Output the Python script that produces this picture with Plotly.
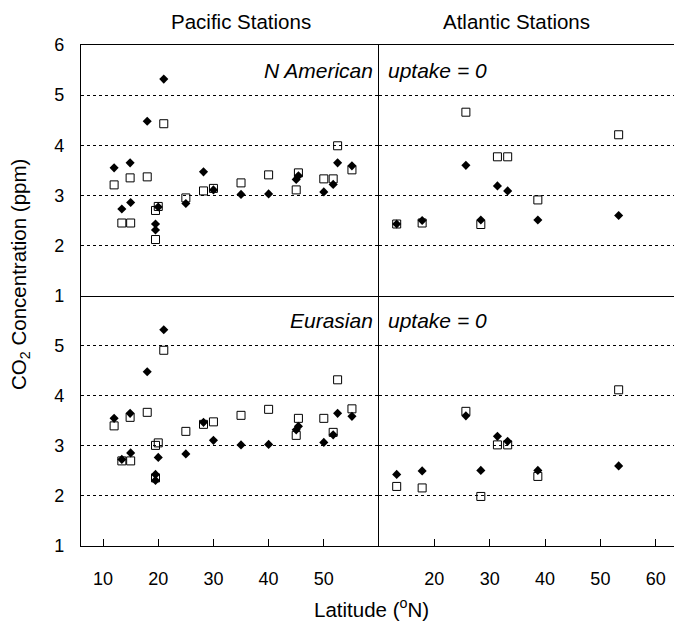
import plotly.graph_objects as go

# Pacific stations
pac_lat = [12.0, 13.4, 14.9, 15.0, 18.0, 19.5, 19.5, 20.0, 21.0, 25.0,
           28.2, 30.0, 35.0, 40.0, 45.0, 45.4, 50.0, 51.7, 52.5, 55.1]
pac_obs = [3.55, 2.73, 3.65, 2.86, 4.48, 2.43, 2.31, 2.77, 5.32, 2.84,
           3.47, 3.11, 3.02, 3.03, 3.32, 3.39, 3.07, 3.22, 3.65, 3.59]
pac_mod_na = [3.21, 2.45, 3.35, 2.45, 3.37, 2.70, 2.12, 2.78, 4.43, 2.95,
              3.09, 3.14, 3.25, 3.41, 3.11, 3.45, 3.33, 3.33, 3.99, 3.51]
pac_mod_eu = [3.40, 2.70, 3.57, 2.70, 3.67, 3.01, 2.36, 3.06, 4.91, 3.29,
              3.43, 3.48, 3.61, 3.73, 3.21, 3.55, 3.55, 3.27, 4.32, 3.74]

# Atlantic stations
atl_lat = [13.2, 17.8, 25.7, 28.4, 31.4, 33.25, 38.7, 53.3]
atl_obs = [2.43, 2.50, 3.60, 2.51, 3.19, 3.09, 2.51, 2.60]
atl_mod_na = [2.43, 2.45, 4.66, 2.42, 3.77, 3.77, 2.91, 4.21]
atl_mod_eu = [2.19, 2.16, 3.69, 1.99, 3.02, 3.02, 2.39, 4.12]

pac_ticks = [10, 20, 30, 40, 50]
atl_ticks = [20, 30, 40, 50, 60]
y_ticks_top = [1, 2, 3, 4, 5, 6]
y_ticks_bot = [1, 2, 3, 4, 5]

FONT = "Liberation Sans, Arial, Helvetica, sans-serif"

fig = go.Figure()

panels = [
    ("x", "y", pac_lat, pac_obs, pac_mod_na),
    ("x2", "y2", atl_lat, atl_obs, atl_mod_na),
    ("x3", "y3", pac_lat, pac_obs, pac_mod_eu),
    ("x4", "y4", atl_lat, atl_obs, atl_mod_eu),
]
for xa, ya, lat, obs, mod in panels:
    fig.add_trace(go.Scatter(x=lat, y=mod, xaxis=xa, yaxis=ya, mode="markers",
                             marker=dict(symbol="square-open", size=8, color="black",
                                         line=dict(width=1, color="black")),
                             showlegend=False, cliponaxis=False))
    fig.add_trace(go.Scatter(x=lat, y=obs, xaxis=xa, yaxis=ya, mode="markers",
                             marker=dict(symbol="diamond", size=7, color="black"),
                             showlegend=False, cliponaxis=False))

xsplit = 0.5025
ysplit = 0.4996

grid = dict(showgrid=True, gridcolor="black", gridwidth=1, griddash="3px,3px",
            zeroline=False)

def xax(domain, rng, anchor, bottom, tv):
    d = dict(domain=domain, range=rng, anchor=anchor, showgrid=False, zeroline=False,
             showline=True, linecolor="black", linewidth=1.3, tickvals=tv)
    if bottom:
        d.update(ticks="inside", ticklen=7, tickcolor="black", tickwidth=1,
                 showticklabels=True, tickfont=dict(size=18, color="black", family=FONT),
                 ticklabelstandoff=16)
    else:
        d.update(mirror=True, ticks="", showticklabels=False)
    return d

def yax(domain, anchor, tickvals, labels):
    d = dict(domain=domain, range=[1, 6], anchor=anchor, tickvals=tickvals,
             showline=True, linecolor="black", linewidth=1.3, ticks="",
             showticklabels=labels, tickfont=dict(size=18, color="black", family=FONT),
             ticklabelstandoff=12, **grid)
    return d

fig.update_layout(
    width=674, height=621,
    margin=dict(l=81, r=0, t=45, b=75),
    paper_bgcolor="white", plot_bgcolor="white",
    font=dict(family=FONT, color="black", size=18),
    xaxis=xax([0, xsplit], [6, 60], "y", False, pac_ticks),
    xaxis2=xax([xsplit, 1], [10, 63.3], "y2", False, atl_ticks),
    xaxis3=xax([0, xsplit], [6, 60], "y3", True, pac_ticks),
    xaxis4=xax([xsplit, 1], [10, 63.3], "y4", True, atl_ticks),
    yaxis=yax([ysplit, 1], "x", y_ticks_top, True),
    yaxis2=yax([ysplit, 1], "x2", y_ticks_top, False),
    yaxis3=yax([0, ysplit], "x3", y_ticks_bot, True),
    yaxis4=yax([0, ysplit], "x4", y_ticks_bot, False),
)

ann = []
ann.append(dict(text="Pacific Stations", x=0.27, y=1, xref="paper", yref="paper",
                xanchor="center", yanchor="middle", yshift=24, showarrow=False,
                font=dict(size=20.5)))
ann.append(dict(text="Atlantic Stations", x=0.735, y=1, xref="paper", yref="paper",
                xanchor="center", yanchor="middle", yshift=24, showarrow=False,
                font=dict(size=20.5)))
for yy in [1.0, ysplit]:
    lbl = "N American" if yy == 1.0 else "Eurasian"
    ann.append(dict(text="<i>%s</i>" % lbl, x=xsplit, y=yy, xref="paper", yref="paper",
                    xanchor="right", yanchor="middle", xshift=-4, yshift=-25,
                    showarrow=False, font=dict(size=21)))
    ann.append(dict(text="<i>uptake = 0</i>", x=xsplit, y=yy, xref="paper", yref="paper",
                    xanchor="left", yanchor="middle", xshift=7, yshift=-25,
                    showarrow=False, font=dict(size=21)))
ann.append(dict(text="CO<sub>2</sub> Concentration (ppm)", x=0, y=0.541, xref="paper",
                yref="paper", xanchor="center", yanchor="middle", xshift=-61,
                textangle=-90, showarrow=False, font=dict(size=20.5)))
ann.append(dict(text="Latitude (<sup>o</sup>N)", x=0.49, y=0, xref="paper", yref="paper",
                xanchor="center", yanchor="middle", yshift=-62, showarrow=False,
                font=dict(size=20.5)))
fig.update_layout(annotations=ann)

fig.write_html("out.html", config={"displayModeBar": False},
               post_script="document.body.style.margin='0';document.body.style.padding='0';")
